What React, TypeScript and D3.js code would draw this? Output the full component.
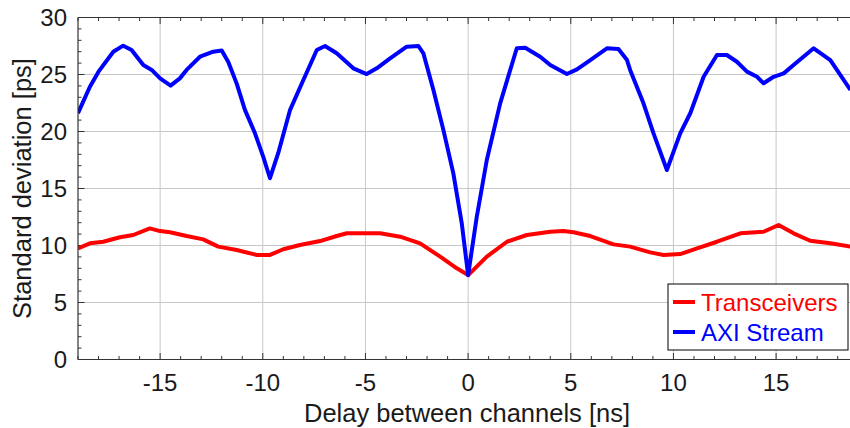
import React from "react";
import * as d3 from "d3";

const axiX = [-19.0,-18.42,-18.0,-17.28,-16.8,-16.39,-15.82,-15.41,-15.0,-14.49,-14.04,-13.71,-13.06,-12.41,-12.0,-11.68,-11.27,-10.87,-10.38,-9.98,-9.65,-9.25,-8.67,-8.03,-7.37,-6.97,-6.4,-5.59,-4.94,-4.45,-3.8,-2.99,-2.42,-2.18,-1.69,-1.2,-0.72,-0.31,0.0,0.42,0.91,1.56,2.37,2.78,3.51,4.0,4.81,5.3,5.95,6.76,7.32,7.73,7.89,8.54,9.03,9.68,10.33,10.82,11.47,12.12,12.6,13.09,13.58,14.07,14.39,14.88,15.37,15.85,16.83,17.64,18.62];
const axiY = [21.6,23.93,25.25,27.0,27.53,27.15,25.83,25.4,24.66,24.02,24.66,25.4,26.56,27.0,27.1,26.1,24.2,21.9,19.84,17.8,15.9,18.1,21.9,24.5,27.15,27.5,26.86,25.54,25.04,25.54,26.42,27.44,27.5,26.86,23.64,20.1,16.33,11.95,7.4,12.5,17.5,22.47,27.3,27.35,26.56,25.83,25.04,25.45,26.27,27.3,27.24,26.3,25.4,22.47,19.84,16.62,19.84,21.6,24.8,26.71,26.71,26.12,25.25,24.8,24.23,24.8,25.1,25.83,27.3,26.27,23.64];

const trxX = [-19.0,-18.42,-17.77,-16.96,-16.31,-15.5,-15.09,-14.52,-13.71,-12.9,-12.17,-11.27,-10.3,-9.65,-9.0,-8.19,-7.21,-6.4,-5.91,-5.1,-4.29,-3.31,-2.34,-1.36,-0.55,0.0,0.91,1.89,2.86,4.0,4.64,5.13,5.95,7.08,7.89,8.87,9.52,10.33,11.15,12.12,13.26,14.39,15.12,15.85,16.66,17.64,18.62];
const trxY = [9.75,10.19,10.33,10.72,10.92,11.5,11.3,11.16,10.83,10.54,9.9,9.6,9.17,9.17,9.67,10.04,10.39,10.83,11.07,11.07,11.07,10.77,10.19,9.02,8.0,7.4,9.02,10.33,10.92,11.21,11.27,11.16,10.83,10.1,9.9,9.4,9.17,9.25,9.75,10.33,11.07,11.21,11.8,11.07,10.42,10.19,9.9];

const xTicks = [-15, -10, -5, 0, 5, 10, 15];
const yTicks = [0, 5, 10, 15, 20, 25, 30];
const seriesNames = ["Transceivers", "AXI Stream"];
const seriesColors = ["#ff0000", "#0000ff"];

export default function App() {
  const L = 78, R = 849, T = 17.5, B = 359.5;
  const x = d3.scaleLinear().domain([-19, 18.55]).range([L, R]);
  const y = d3.scaleLinear().domain([0, 30]).range([B, T]);
  const xMinor = d3.range(-19, 19, 1);
  const yMinor = d3.range(0, 31, 1);
  const line = d3.line<[number, number]>().x(d => x(d[0])).y(d => y(d[1]));
  const trx = trxX.map((v, i) => [v, trxY[i]] as [number, number]);
  const axi = axiX.map((v, i) => [v, axiY[i]] as [number, number]);
  const font = "'Liberation Sans', Arial, sans-serif";
  return (
    <svg width={850} height={428} style={{ position: "absolute", left: 0, top: 0 }} fontFamily={font}>
      <rect width={850} height={428} fill="#fff" />
      <defs>
        <clipPath id="pc"><rect x={L} y={T} width={R - L + 2} height={B - T} /></clipPath>
      </defs>
      {xTicks.map(t => (
        <line key={"gx" + t} x1={x(t)} x2={x(t)} y1={T} y2={B} stroke="#c8c8c8" strokeWidth={1} />
      ))}
      {yTicks.map(t => (
        <line key={"gy" + t} x1={L} x2={R + 2} y1={y(t)} y2={y(t)} stroke="#c8c8c8" strokeWidth={1} />
      ))}
      {xMinor.map(t => {
        const major = t % 5 === 0;
        const len = major ? 6.5 : 3.5;
        return (
          <g key={"tx" + t}>
            <line x1={x(t)} x2={x(t)} y1={B} y2={B - len} stroke="#333" />
            <line x1={x(t)} x2={x(t)} y1={T} y2={T + len} stroke="#333" />
          </g>
        );
      })}
      {yMinor.map(t => {
        const major = t % 5 === 0;
        const len = major ? 6.5 : 3.5;
        return <line key={"ty" + t} x1={L} x2={L + len} y1={y(t)} y2={y(t)} stroke="#333" />;
      })}
      <g clipPath="url(#pc)">
        <path d={line(trx) || ""} fill="none" stroke={seriesColors[0]} strokeWidth={4} strokeLinejoin="round" />
        <path d={line(axi) || ""} fill="none" stroke={seriesColors[1]} strokeWidth={4} strokeLinejoin="round" />
      </g>
      <line x1={L} x2={R + 2} y1={T} y2={T} stroke="#333" strokeWidth={1.2} />
      <line x1={L} x2={R + 2} y1={B} y2={B} stroke="#333" strokeWidth={1.2} />
      <line x1={L} x2={L} y1={T} y2={B} stroke="#333" strokeWidth={1.2} />
      {xTicks.map(t => (
        <text key={"lx" + t} x={x(t)} y={391} textAnchor="middle" fontSize={24} fill="#1a1a1a">{t}</text>
      ))}
      {yTicks.map(t => (
        <text key={"ly" + t} x={67} y={y(t) + 8.5} textAnchor="end" fontSize={24} fill="#1a1a1a">{t}</text>
      ))}
      <text x={467} y={421.5} textAnchor="middle" fontSize={25.5} fill="#1a1a1a">Delay between channels [ns]</text>
      <text transform={`translate(31,${(T + B) / 2}) rotate(-90)`} textAnchor="middle" fontSize={25.5} fill="#1a1a1a">Standard deviation [ps]</text>
      <g>
        <rect x={668} y={284} width={180} height={66} fill="#fff" stroke="#000" strokeWidth={1} />
        {seriesNames.map((n, i) => (
          <g key={n}>
            <line x1={673} x2={695} y1={302 + i * 30} y2={302 + i * 30} stroke={seriesColors[i]} strokeWidth={4} />
            <text x={701} y={310.5 + i * 30} fontSize={24} fill={seriesColors[i]}>{n}</text>
          </g>
        ))}
      </g>
    </svg>
  );
}
